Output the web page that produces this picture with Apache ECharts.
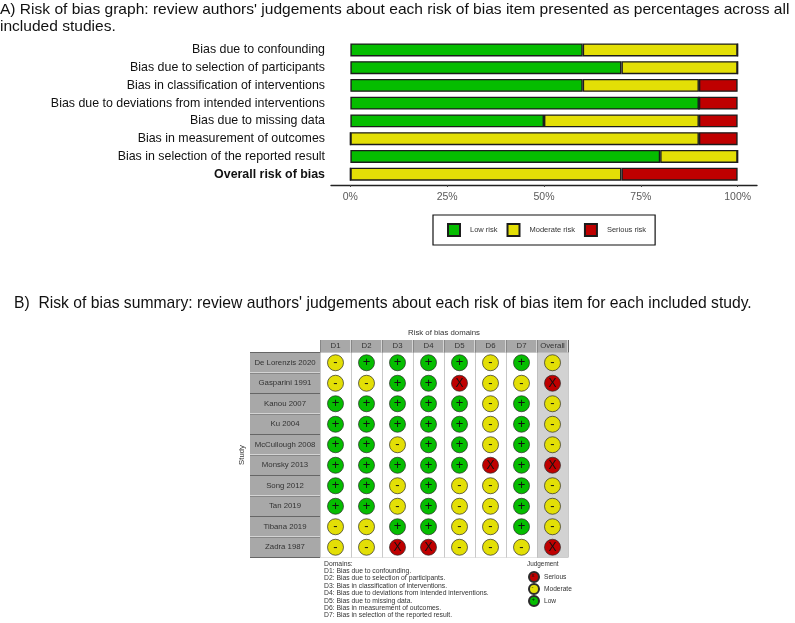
<!DOCTYPE html>
<html>
<head>
<meta charset="utf-8">
<script src="https://cdn.jsdelivr.net/npm/echarts@6/dist/echarts.min.js"></script>
<style>
html, body { margin: 0; padding: 0; background: #fff; }
#main { width: 795px; height: 623px; }
</style>
</head>
<body>
<div id="main"></div>
<script>
// panel A
const biasItems = [
    'Bias due to confounding',
    'Bias due to selection of participants',
    'Bias in classification of interventions',
    'Bias due to deviations from intended interventions',
    'Bias due to missing data',
    'Bias in measurement of outcomes',
    'Bias in selection of the reported result',
    'Overall risk of bias'
]
const lowRisk = [60, 70, 60, 90, 50, 0, 80, 0]
const moderateRisk = [40, 30, 30, 0, 40, 90, 20, 70]
const seriousRisk = [0, 0, 10, 10, 10, 10, 0, 30]
const percentTicks = [0, 25, 50, 75, 100]

// panel B
const domains = ['D1', 'D2', 'D3', 'D4', 'D5', 'D6', 'D7', 'Overall']
const studies = ['De Lorenzis 2020', 'Gasparini 1991', 'Kanou 2007', 'Ku 2004', 'McCullough 2008',
    'Monsky 2013', 'Song 2012', 'Tan 2019', 'Tibana 2019', 'Zadra 1987']
const judgements = [
    ['-', '+', '+', '+', '+', '-', '+', '-'],
    ['-', '-', '+', '+', 'X', '-', '-', 'X'],
    ['+', '+', '+', '+', '+', '-', '+', '-'],
    ['+', '+', '+', '+', '+', '-', '+', '-'],
    ['+', '+', '-', '+', '+', '-', '+', '-'],
    ['+', '+', '+', '+', '+', 'X', '+', 'X'],
    ['+', '+', '-', '+', '-', '-', '+', '-'],
    ['+', '+', '-', '+', '-', '-', '+', '-'],
    ['-', '-', '+', '+', '-', '-', '+', '-'],
    ['-', '-', 'X', 'X', '-', '-', '-', 'X']
]
const domainNotes = [
    'Domains:',
    'D1: Bias due to confounding.',
    'D2: Bias due to selection of participants.',
    'D3: Bias in classification of interventions.',
    'D4: Bias due to deviations from intended interventions.',
    'D5: Bias due to missing data.',
    'D6: Bias in measurement of outcomes.',
    'D7: Bias in selection of the reported result.'
]

const GREEN = '#05bd00'
const YELLOW = '#e3df06'
const RED = '#bf0000'
const FONT = '"Liberation Sans", Arial, sans-serif'

function cellsFor(mark) {
    let cells = []
    judgements.forEach(function (row, y) {
        row.forEach(function (v, x) {
            if (v === mark) cells.push([x, y])
        })
    })
    return cells
}

function barSeries(name, values, color) {
    return {
        name: name,
        type: 'bar',
        stack: 'risk',
        barWidth: 13,
        xAxisIndex: 0,
        yAxisIndex: 0,
        data: values,
        itemStyle: { color: color, borderColor: '#1c1c1c', borderWidth: 1.4 }
    }
}

function markSeries(name, mark, color) {
    return {
        name: name,
        type: 'scatter',
        xAxisIndex: 1,
        yAxisIndex: 1,
        symbol: 'circle',
        symbolSize: 16,
        data: cellsFor(mark),
        z: 5,
        itemStyle: { color: color, opacity: 1, borderColor: '#2a2a2a', borderWidth: 0.7 },
        label: {
            show: true,
            position: 'inside',
            formatter: mark,
            color: '#111',
            fontFamily: FONT,
            fontSize: mark === 'X' ? 12 : 13
        }
    }
}

function legendMark(text, top) {
    return {
        type: 'text',
        left: 531.5,
        top: top,
        z: 20,
        style: { text: text, font: '6px ' + FONT, fill: '#111' }
    }
}

const chart = echarts.init(document.getElementById('main'))

chart.setOption({
    animation: false,
    backgroundColor: '#fff',
    textStyle: { fontFamily: FONT },
    title: [
        {
            text: "A) Risk of bias graph: review authors' judgements about each risk of bias item presented as percentages across all\nincluded studies.",
            left: 0,
            top: 1,
            padding: 0,
            textStyle: { fontSize: 15.55, fontWeight: 'normal', color: '#111', lineHeight: 17, fontFamily: FONT }
        },
        {
            text: "B)  Risk of bias summary: review authors' judgements about each risk of bias item for each included study.",
            left: 14,
            top: 296,
            padding: 0,
            textStyle: { fontSize: 15.7, fontWeight: 'normal', color: '#111', fontFamily: FONT }
        }
    ],
    legend: [
        {
            data: ['Low risk', 'Moderate risk', 'Serious risk'],
            left: 433,
            top: 215,
            padding: [8, 9, 8, 14],
            itemWidth: 12,
            itemHeight: 12,
            itemGap: 9,
            icon: 'rect',
            borderColor: '#111',
            borderWidth: 1.2,
            selectedMode: false,
            textStyle: { fontSize: 7.5, color: '#333', fontFamily: FONT, padding: [0, 0, 0, 5] }
        },
        {
            data: ['Serious', 'Moderate', 'Low'],
            orient: 'vertical',
            left: 528,
            top: 571,
            padding: 0,
            itemWidth: 10,
            itemHeight: 10,
            itemGap: 0,
            icon: 'circle',
            selectedMode: false,
            textStyle: { fontSize: 6.6, color: '#333', fontFamily: FONT, lineHeight: 10 }
        }
    ],
    grid: [
        { left: 331, right: 38, top: 41, height: 142 },
        { left: 320, width: 248, top: 352.5, height: 205 }
    ],
    xAxis: [
        {
            gridIndex: 0,
            type: 'value',
            min: -5,
            max: 105,
            offset: 2,
            splitLine: { show: false },
            axisLine: { show: true, lineStyle: { color: '#222', width: 1.4 } },
            axisTick: { show: true, length: 2, customValues: percentTicks, lineStyle: { color: '#444' } },
            axisLabel: {
                customValues: percentTicks,
                formatter: '{value}%',
                color: '#5a5a5a',
                fontSize: 10.5,
                margin: 7
            }
        },
        {
            gridIndex: 1,
            type: 'category',
            position: 'top',
            data: domains,
            name: 'Risk of bias domains',
            nameLocation: 'middle',
            nameGap: 16,
            nameTextStyle: { fontSize: 7.8, color: '#333' },
            axisLine: { show: false },
            axisTick: { show: true, interval: 0, length: 12.5, lineStyle: { color: '#666' } },
            axisLabel: {
                interval: 0,
                color: '#333',
                fontSize: 7.8,
                margin: 0,
                width: 30,
                height: 12.5,
                lineHeight: 12.5,
                align: 'center',
                backgroundColor: '#a8a8a8'
            },
            splitLine: { show: true, interval: 0, lineStyle: { color: '#bbb', width: 0.8 } },
            splitArea: {
                show: true,
                interval: 0,
                areaStyle: { color: ['#fff', '#fff', '#fff', '#fff', '#fff', '#fff', '#fff', '#d2d2d2'] }
            }
        }
    ],
    yAxis: [
        {
            gridIndex: 0,
            type: 'category',
            inverse: true,
            data: biasItems.map(function (name) {
                return name === 'Overall risk of bias'
                    ? { value: name, textStyle: { fontWeight: 'bold' } }
                    : name
            }),
            axisLine: { show: false },
            axisTick: { show: false },
            axisLabel: { interval: 0, color: '#111', fontSize: 12.4, margin: 6 }
        },
        {
            gridIndex: 1,
            type: 'category',
            inverse: true,
            data: studies,
            name: 'Study',
            nameLocation: 'middle',
            nameGap: 74,
            nameRotate: 90,
            nameTextStyle: { fontSize: 7.8, color: '#333' },
            axisLine: { show: false },
            axisTick: { show: true, interval: 0, length: 70, lineStyle: { color: '#666' } },
            axisLabel: {
                interval: 0,
                color: '#333',
                fontSize: 7.8,
                margin: 35,
                width: 70,
                height: 19.5,
                lineHeight: 19.5,
                align: 'center',
                backgroundColor: '#a8a8a8'
            },
            splitLine: { show: true, interval: 0, lineStyle: { color: '#bbb', width: 0.8 } }
        }
    ],
    graphic: [
        {
            type: 'text',
            left: 324,
            top: 560,
            style: {
                text: domainNotes.join('\n'),
                font: '6.8px ' + FONT,
                lineHeight: 7.4,
                fill: '#333'
            }
        },
        {
            type: 'text',
            left: 527,
            top: 561,
            style: { text: 'Judgement', font: '6.4px ' + FONT, fill: '#333' }
        },
        legendMark('x', 572.5),
        legendMark('-', 584.5),
        legendMark('+', 596.5)
    ],
    series: [
        barSeries('Low risk', lowRisk, GREEN),
        barSeries('Moderate risk', moderateRisk, YELLOW),
        barSeries('Serious risk', seriousRisk, RED),
        markSeries('Low', '+', GREEN),
        markSeries('Moderate', '-', YELLOW),
        markSeries('Serious', 'X', RED)
    ]
})
</script>
</body>
</html>
